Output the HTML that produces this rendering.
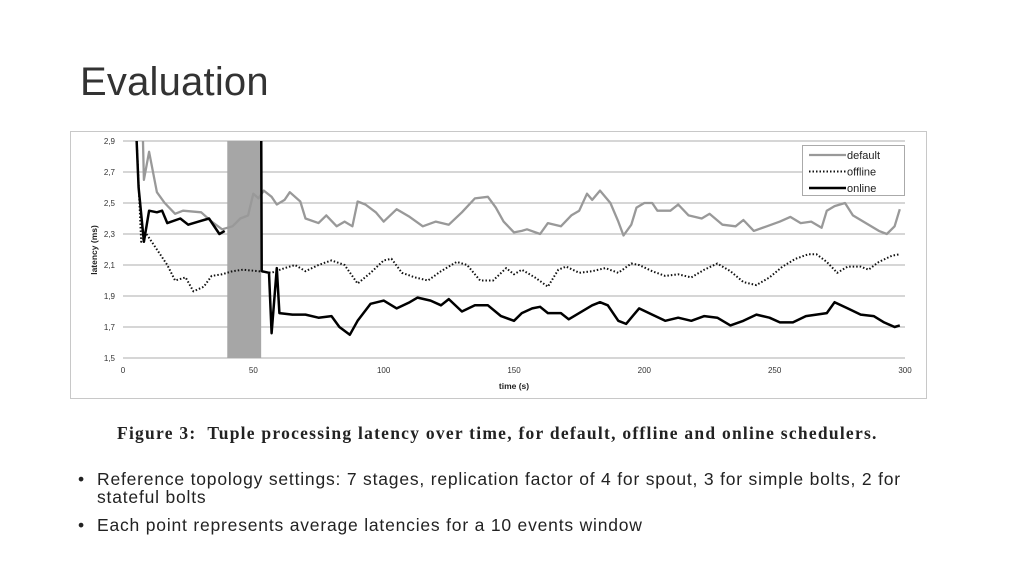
<!DOCTYPE html>
<html><head><meta charset="utf-8"><style>
body{margin:0;width:1024px;height:576px;background:#fff;overflow:hidden;position:relative;font-family:"Liberation Sans",sans-serif}
#title{position:absolute;left:80px;top:60px;font-size:40px;color:#333;letter-spacing:0.2px}
#caption{position:absolute;left:117px;top:423px;font-family:"Liberation Serif",serif;font-weight:bold;font-size:17.5px;letter-spacing:1.25px;color:#222;white-space:nowrap}
.b{position:absolute;left:78px;font-size:17.5px;letter-spacing:0.8px;color:#222;line-height:18px;white-space:nowrap}
.b span{position:absolute;left:0}
.b div{margin-left:19px}
</style></head><body>
<div id="title">Evaluation</div>
<svg id="chart" width="1024" height="576" style="position:absolute;left:0;top:0"></svg>
<div id="caption">Figure 3:&nbsp; Tuple processing latency over time, for default, offline and online schedulers.</div>
<div class="b" style="top:470px"><span>•</span><div>Reference topology settings: 7 stages, replication factor of 4 for spout, 3 for simple bolts, 2 for<br>stateful bolts</div></div>
<div class="b" style="top:516px"><span>•</span><div>Each point represents average latencies for a 10 events window</div></div>
<script>
const xTicks=[0,50,100,150,200,250,300];
const yTicks=[1.5,1.7,1.9,2.1,2.3,2.5,2.7,2.9];
const yTickLabels=["1,5","1,7","1,9","2,1","2,3","2,5","2,7","2,9"];
const shadeRange=[40,53];
const defT=[7.5,8,10,13,16,20,23,30,34,38,42,45,48,50,52,54,57,59,62,64,68,70,75,78,82,85,88,90,93,97,100,105,110,115,120,125,130,135,140,143,146,150,153,155,160,163,168,172,175,178,180,183,187,190,192,195,197,200,203,205,210,213,217,222,225,230,235,238,242,247,252,256,260,264,268,270,273,277,280,285,290,293,296,298];
const defV=[3.0,2.65,2.83,2.57,2.5,2.43,2.45,2.44,2.38,2.33,2.35,2.4,2.42,2.56,2.53,2.58,2.54,2.49,2.52,2.57,2.51,2.4,2.37,2.42,2.35,2.38,2.35,2.51,2.49,2.44,2.38,2.46,2.41,2.35,2.38,2.36,2.44,2.53,2.54,2.47,2.38,2.31,2.32,2.33,2.3,2.37,2.35,2.42,2.45,2.56,2.52,2.58,2.5,2.38,2.29,2.36,2.47,2.5,2.5,2.45,2.45,2.49,2.42,2.4,2.43,2.36,2.35,2.39,2.32,2.35,2.38,2.41,2.37,2.38,2.34,2.45,2.48,2.5,2.42,2.37,2.32,2.3,2.35,2.46];
const offT=[5,7,9,13,17,20,24,27,31,34,38,42,46,52,57,62,66,70,75,80,85,90,95,100,103,107,112,117,122,128,132,137,142,147,150,153,158,163,167,170,175,180,185,190,195,198,203,208,213,218,223,228,233,238,243,248,253,258,263,266,270,274,278,283,286,290,295,298];
const offV=[3.0,2.25,2.3,2.2,2.1,2.0,2.02,1.93,1.96,2.03,2.04,2.06,2.07,2.06,2.05,2.08,2.1,2.06,2.1,2.13,2.1,1.98,2.05,2.13,2.14,2.05,2.02,2.0,2.06,2.12,2.1,2.0,2.0,2.08,2.04,2.07,2.02,1.96,2.07,2.09,2.05,2.06,2.08,2.05,2.11,2.1,2.06,2.03,2.04,2.02,2.07,2.11,2.06,1.99,1.97,2.02,2.09,2.14,2.17,2.17,2.12,2.05,2.09,2.09,2.07,2.12,2.16,2.17];
const onT1=[5,6,8,10,13,15,17,22,25,29,33,37,39];
const onV1=[3.0,2.6,2.25,2.45,2.44,2.45,2.37,2.4,2.36,2.38,2.4,2.3,2.32];
const onT2=[53,53.2,56,57,59,60,65,70,75,80,83,87,90,95,100,105,110,113,118,122,125,130,135,140,145,150,153,157,160,163,168,171,175,180,183,186,190,193,198,203,208,213,218,223,228,233,238,243,248,252,257,262,266,270,273,278,283,288,292,296,298];
const onV2=[3.0,2.06,2.05,1.66,2.08,1.79,1.78,1.78,1.76,1.77,1.7,1.65,1.74,1.85,1.87,1.82,1.86,1.89,1.87,1.84,1.88,1.8,1.84,1.84,1.77,1.74,1.79,1.82,1.83,1.79,1.79,1.75,1.79,1.84,1.86,1.84,1.74,1.72,1.82,1.78,1.74,1.76,1.74,1.77,1.76,1.71,1.74,1.78,1.76,1.73,1.73,1.77,1.78,1.79,1.86,1.82,1.78,1.77,1.73,1.70,1.71];
const svg=document.getElementById('chart');const NS='http://www.w3.org/2000/svg';
const X0=123,X1=905,Y0=358,Y1=141;
const sx=t=>X0+(t-0)/(300-0)*(X1-X0);
const sy=v=>Y0-(v-1.5)/(2.9-1.5)*(Y0-Y1);
function mk(tag,attrs,parent){const e=document.createElementNS(NS,tag);for(const k in attrs)e.setAttribute(k,attrs[k]);(parent||svg).appendChild(e);return e;}
const frame=mk('rect',{x:70.5,y:131.5,width:856,height:267,fill:'#fff',stroke:'#c8c8c8'});

const defs=mk('defs',{});const cp=mk('clipPath',{id:'clip'},defs);mk('rect',{x:X0,y:Y1,width:X1-X0+4,height:Y0-Y1},cp);
yTicks.forEach((v,i)=>{const l=mk('line',{x1:X0,x2:X1,y1:sy(v),y2:sy(v),stroke:'#bdbdbd','stroke-width':1.2});

const t=mk('text',{x:X0-8,y:sy(v)+3,'text-anchor':'end','font-size':8,fill:'#333'});t.textContent=yTickLabels[i];
});
xTicks.forEach(v=>{const t=mk('text',{x:sx(v),y:373,'text-anchor':'middle','font-size':8,fill:'#333'});t.textContent=v;
});
const sh=mk('rect',{x:sx(shadeRange[0]),y:Y1,width:sx(shadeRange[1])-sx(shadeRange[0]),height:Y0-Y1,fill:'#a6a6a6'});

const xt=mk('text',{x:514,y:389,'text-anchor':'middle','font-size':8.5,'font-weight':'bold',fill:'#222'});xt.textContent='time (s)';

const yt=mk('text',{x:0,y:0,'text-anchor':'middle','font-size':8.5,'font-weight':'bold',fill:'#222',transform:'translate(97,250) rotate(-90)'});yt.textContent='latency (ms)';

function line(T,V,style,name){const d=T.map((t,i)=>(i?'L':'M')+sx(t).toFixed(1)+','+sy(V[i]).toFixed(1)).join('');
const p=mk('path',Object.assign({d:d,fill:'none','clip-path':'url(#clip)','stroke-linejoin':'round'},style));
}
line(defT,defV,{stroke:'#999','stroke-width':2.3},'default-series');
line(offT,offV,{stroke:'#111','stroke-width':2,'stroke-dasharray':'1.5,2'},'offline-series');
line(onT1,onV1,{stroke:'#000','stroke-width':2.5},'online-series-start');
line(onT2,onV2,{stroke:'#000','stroke-width':2.5},'online-series');
const lg=mk('g',{});
mk('rect',{x:802.5,y:145.5,width:102,height:50,fill:'#fff',stroke:'#aaa'},lg);
const items=[['default',{stroke:'#999','stroke-width':2.3}],['offline',{stroke:'#111','stroke-width':2,'stroke-dasharray':'1.5,2'}],['online',{stroke:'#000','stroke-width':2.5}]];
items.forEach((it,i)=>{const y=155+i*16.5;const l=mk('line',Object.assign({x1:809,x2:846,y1:y,y2:y},it[1]),lg);

const t=mk('text',{x:847,y:y+4,'font-size':11,fill:'#222'},lg);t.textContent=it[0];
});
</script>
</body></html>
